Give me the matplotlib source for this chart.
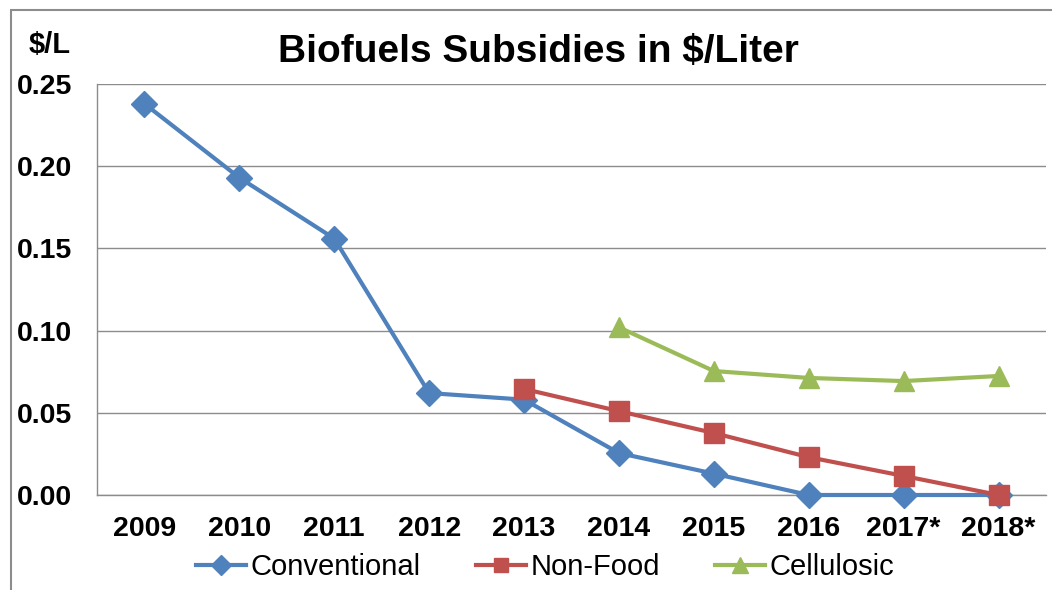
import matplotlib
matplotlib.use("Agg")
import matplotlib.pyplot as plt
from matplotlib.patches import Rectangle
import numpy as np

years = ["2009", "2010", "2011", "2012", "2013", "2014", "2015", "2016", "2017*", "2018*"]
conventional = [0.238, 0.193, 0.156, 0.062, 0.058, 0.0255, 0.013, 0.0, 0.0, 0.0]
non_food = [None, None, None, None, 0.0645, 0.051, 0.0377, 0.023, 0.0116, 0.0]
cellulosic = [None, None, None, None, None, 0.102, 0.0754, 0.0712, 0.0693, 0.0724]

plt.rcParams['font.family'] = ['Liberation Sans', 'DejaVu Sans']

W, H = 1052, 590
fig = plt.figure(figsize=(W / 100, H / 100), dpi=100)
fig.patch.set_facecolor("white")

# outer border
fig.add_artist(Rectangle((11 / W, -0.1), 1.2, (H - 10) / H + 0.1, transform=fig.transFigure,
                         fill=False, edgecolor="#8c8c8c", linewidth=1.5))

left, right, top, bottom = 97, 1046, 84, 495
ax = fig.add_axes([left / W, 1 - bottom / H, (right - left) / W, (bottom - top) / H])

x = np.arange(len(years))

def to_arr(v):
    return np.array([np.nan if a is None else a for a in v], dtype=float)

ax.plot(x, to_arr(conventional), color="#4F81BD", lw=3, marker="D", markersize=13,
        label="Conventional", zorder=3, clip_on=False)
ax.plot(x, to_arr(non_food), color="#C0504D", lw=3, marker="s", markersize=14,
        label="Non-Food", zorder=4, clip_on=False)
ax.plot(x, to_arr(cellulosic), color="#9BBB59", lw=3, marker="^", markersize=15,
        label="Cellulosic", zorder=3, clip_on=False)

ax.set_xlim(-0.5, len(years) - 0.5)
ax.set_ylim(0, 0.25)
ax.set_yticks(np.arange(0, 0.2501, 0.05))
ax.set_yticklabels([f"{v:.2f}" for v in np.arange(0, 0.2501, 0.05)])
ax.set_xticks(x)
ax.set_xticklabels(years)
ax.grid(axis="y", color="#8c8c8c", lw=1.0)
ax.set_axisbelow(True)
for s in ["top", "right"]:
    ax.spines[s].set_visible(False)
for s in ["left", "bottom"]:
    ax.spines[s].set_color("#8c8c8c")
    ax.spines[s].set_linewidth(1.0)
ax.tick_params(axis="both", length=0, labelsize=20.5)
for lab in ax.get_xticklabels() + ax.get_yticklabels():
    lab.set_fontweight("bold")
ax.tick_params(axis="y", pad=18)
ax.tick_params(axis="x", pad=15)

fig.text(50 / W, 1 - 45 / H, "$/L", fontsize=21, fontweight="bold", ha="center", va="center")
fig.text(538 / W, 1 - 52 / H, "Biofuels Subsidies in $/Liter", fontsize=28, fontweight="bold",
         ha="center", va="center")

leg = fig.legend(loc="center", bbox_to_anchor=(545 / W, 1 - 567 / H), ncol=3, frameon=False,
                 fontsize=21, handlelength=1.72, columnspacing=1.9, handletextpad=0.15,
                 borderpad=0, borderaxespad=0, markerscale=0.75)

fig.savefig("out.png", dpi=100, facecolor="white")
